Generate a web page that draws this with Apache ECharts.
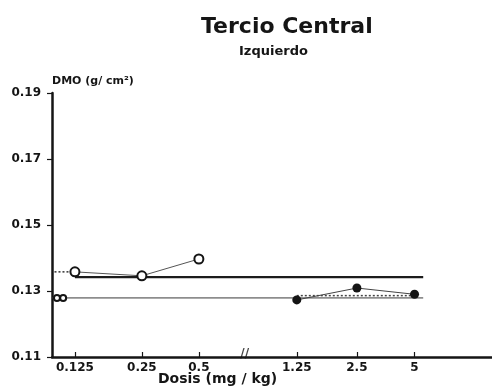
<!DOCTYPE html>
<html>
<head>
<meta charset="utf-8">
<script src="https://cdn.jsdelivr.net/npm/echarts@6/dist/echarts.min.js"></script>
<style>
  html, body { margin: 0; padding: 0; background: #fff; }
  #chart { width: 492px; height: 392px; }
</style>
</head>
<body>
<div id="chart"></div>
<script>
// dose categories and where they sit on the (broken, roughly log) dose axis
const doses = ['0.125', '0.25', '0.5', '1.25', '2.5', '5']
const doseSlots = [0, 1.08, 2, 3.58, 4.55, 5.48]
const breakSlot = 2.74
const axisStart = -0.37
const axisEnd = 6.73
const refLineEnd = 5.62

// DMO values (g/cm2)
const leftDoses = ['0.125', '0.25', '0.5']
const leftValues = [0.1358, 0.1346, 0.1397]
const rightDoses = ['1.25', '2.5', '5']
const rightValues = [0.1273, 0.1309, 0.1290]

// reference levels
const upperMean = 0.1342
const lowerMean = 0.1279
const rightTrend = 0.1286
const controlSlots = [-0.29, -0.19]

const yTicks = [0.11, 0.13, 0.15, 0.17, 0.19]

const font = 'DejaVu Sans'
const ink = '#151515'

const slotOf = d => doseSlots[doses.indexOf(d)]

const chart = echarts.init(document.getElementById('chart'))

chart.setOption({
  backgroundColor: '#fff',
  animation: false,
  title: [{
    text: 'Tercio Central',
    left: 196,
    top: 11,
    textStyle: { fontFamily: font, fontSize: 22, fontWeight: 'bold', color: ink }
  }, {
    text: 'Izquierdo',
    left: 234,
    top: 40,
    textStyle: { fontFamily: font, fontSize: 13, fontWeight: 'bold', color: ink }
  }],
  grid: { left: 52, top: 93, right: 0, bottom: 35 },
  xAxis: {
    type: 'value',
    min: axisStart,
    max: axisEnd,
    splitLine: { show: false },
    axisLine: { onZero: false, lineStyle: { color: ink, width: 2.5 } },
    axisTick: {
      customValues: doseSlots,
      inside: true,
      length: 5,
      lineStyle: { color: ink, width: 1.2 }
    },
    axisLabel: {
      customValues: doseSlots,
      margin: 5,
      fontFamily: font,
      fontSize: 12,
      fontWeight: 'bold',
      color: ink,
      formatter: v => {
        let i = doseSlots.findIndex(s => Math.abs(s - v) < 1e-6)
        return i >= 0 ? doses[i] : ''
      }
    }
  },
  yAxis: {
    type: 'value',
    min: yTicks[0],
    max: yTicks[yTicks.length - 1],
    interval: 0.02,
    name: 'DMO (g/ cm²)',
    nameLocation: 'end',
    nameGap: 6,
    nameTextStyle: {
      align: 'left',
      fontFamily: font,
      fontSize: 11,
      fontWeight: 'bold',
      color: ink
    },
    splitLine: { show: false },
    axisLine: { show: true, onZero: false, lineStyle: { color: ink, width: 2.5 } },
    axisTick: { show: true, length: 5, lineStyle: { color: ink, width: 1.2 } },
    axisLabel: {
      margin: 11,
      fontFamily: font,
      fontSize: 12,
      fontWeight: 'bold',
      color: ink,
      formatter: v => v.toFixed(2)
    }
  },
  graphic: [{
    type: 'text',
    left: 158,
    top: 372,
    style: {
      text: 'Dosis (mg / kg)',
      fontFamily: font,
      fontSize: 14,
      fontWeight: 'bold',
      fill: ink
    }
  }],
  series: [
    {
      // upper mean, thick
      type: 'line',
      data: [[doseSlots[0], upperMean], [refLineEnd, upperMean]],
      symbol: 'none',
      lineStyle: { color: '#1c1c1c', width: 2.2 },
      z: 2
    },
    {
      // upper dotted lead-in
      type: 'line',
      data: [[axisStart + 0.04, leftValues[0]], [doseSlots[0], leftValues[0]]],
      symbol: 'none',
      lineStyle: { color: '#333', width: 1.5, type: [2, 2] },
      z: 2
    },
    {
      // lower mean, thin
      type: 'line',
      data: [[axisStart, lowerMean], [refLineEnd, lowerMean]],
      symbol: 'none',
      lineStyle: { color: '#3a3a3a', width: 1 },
      z: 2
    },
    {
      // control markers on lower line
      type: 'line',
      data: controlSlots.map(s => [s, lowerMean]),
      symbol: 'emptyCircle',
      symbolSize: 6,
      itemStyle: { color: ink, borderWidth: 1.2 },
      lineStyle: { width: 0 },
      z: 3
    },
    {
      // dotted trend on right group
      type: 'line',
      data: [[slotOf('1.25'), rightTrend], [slotOf('5'), rightTrend]],
      symbol: 'none',
      lineStyle: { color: '#444', width: 1.5, type: [2, 2] },
      z: 2
    },
    {
      type: 'line',
      data: leftDoses.map((d, i) => [slotOf(d), leftValues[i]]),
      symbol: 'emptyCircle',
      symbolSize: 9,
      itemStyle: { color: ink, borderWidth: 1.5 },
      lineStyle: { color: '#555', width: 1 },
      z: 4
    },
    {
      type: 'line',
      data: rightDoses.map((d, i) => [slotOf(d), rightValues[i]]),
      symbol: 'circle',
      symbolSize: 9,
      itemStyle: { color: ink },
      lineStyle: { color: '#444', width: 1 },
      z: 4
    },
    {
      // axis break mark
      type: 'scatter',
      data: [[breakSlot, yTicks[0]]],
      symbolSize: 0,
      label: {
        show: true,
        position: 'inside',
        offset: [0, -3],
        formatter: '//',
        fontFamily: font,
        fontSize: 12,
        fontWeight: 'bold',
        color: ink
      },
      z: 5
    }
  ]
})
</script>
</body>
</html>
